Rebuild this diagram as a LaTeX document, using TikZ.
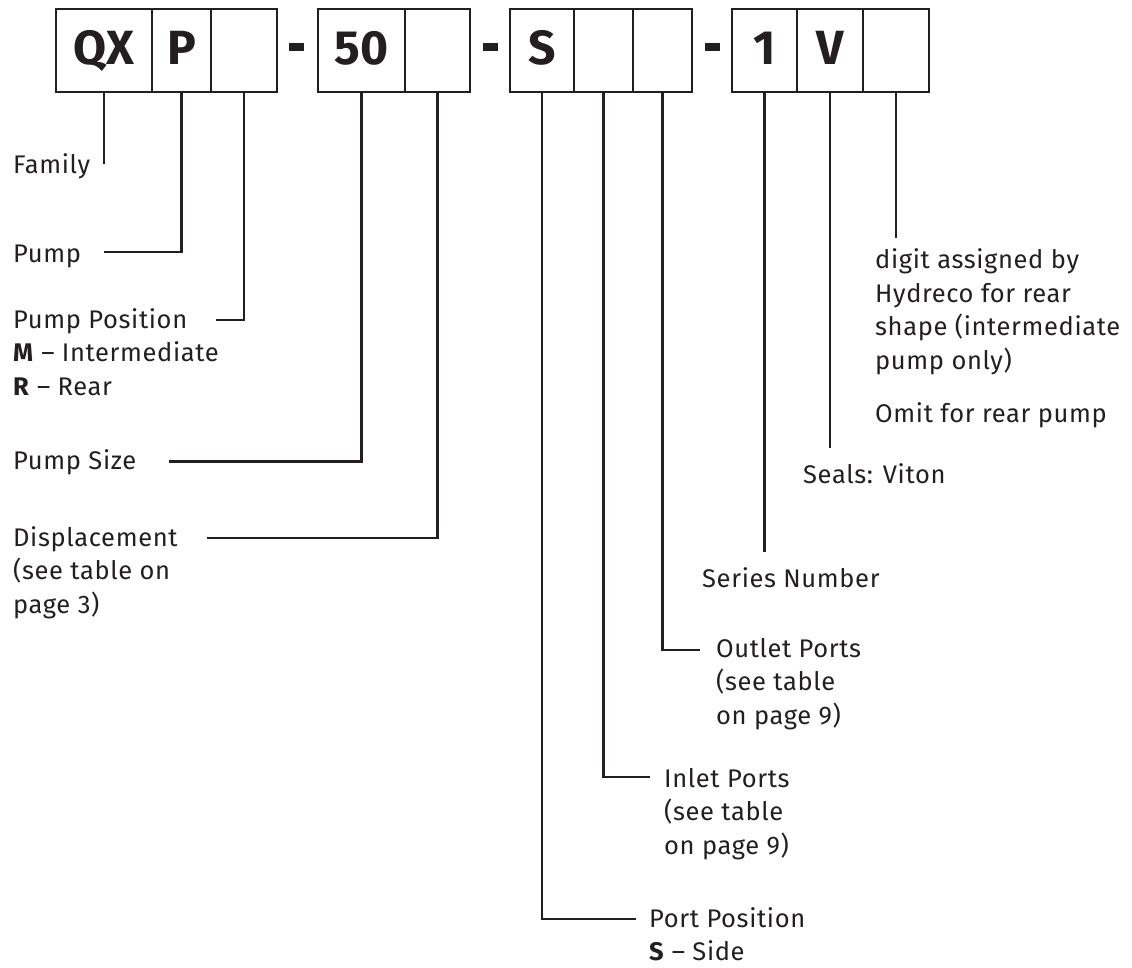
\documentclass[tikz,border=0pt]{standalone}
\usepackage{fontspec}
\setmainfont{Fira Sans}
\newfontfamily\lblfont[LetterSpace=2.5]{Fira Sans}
\definecolor{ink}{HTML}{231F20}
\newcommand{\lblstack}[1]{\vtop{\halign{##\hfil\cr#1\crcr}}}
\begin{document}
\begin{tikzpicture}[x=1pt,y=-1pt,
  cell/.style={draw=ink, line width=2.5pt, minimum height=83pt, inner sep=0pt,
    text height=33pt, text depth=4pt, text=ink,
    font=\fontsize{48}{50}\selectfont\bfseries},
  hy/.style={fill=ink, minimum width=15pt, minimum height=8pt, inner sep=0pt},
  lbl/.style={anchor=base west, inner sep=0pt, text=ink,
    font=\lblfont\fontsize{25.5}{33.5}\selectfont},
  wire/.style={draw=ink, line width=2.5pt}]
\useasboundingbox (0,0) rectangle (1132,968);

% code boxes
\node[cell, minimum width=96pt] (qx) at (104,50.5) {QX};
\node[cell, minimum width=59pt] (p) at (181.5,50.5) {P};
\node[cell, minimum width=66pt] (pp) at (244,50.5) {};
\node[hy] (d1) at (296,47) {};
\node[cell, minimum width=87pt] (fifty) at (361.5,50.5) {50};
\node[cell, minimum width=65pt] (disp) at (437.5,50.5) {};
\node[hy] (d2) at (490.5,47) {};
\node[cell, minimum width=64pt] (s) at (542,50.5) {S};
\node[cell, minimum width=59pt] (inl) at (603.5,50.5) {};
\node[cell, minimum width=59pt] (outl) at (662.5,50.5) {};
\node[hy] (d3) at (712.5,47) {};
\node[cell, minimum width=65pt] (one) at (764.5,50.5) {1};
\node[cell, minimum width=66pt] (v) at (830,50.5) {V};
\node[cell, minimum width=66pt] (dg) at (896,50.5) {};

% labels
\node[lbl] (family) at (13,174) {Family};
\node[lbl] (pump) at (13,262) {Pump};
\node[lbl] (ppos) at (13,328) {\lblstack{Pump Position\cr \textbf{M} – Intermediate\cr \textbf{R} – Rear}};
\node[lbl] (psize) at (13,469) {Pump Size};
\node[lbl] (displ) at (13,546) {\lblstack{Displacement\cr (see table on\cr page 3)}};
\node[lbl] (series) at (702,587) {Series Number};
\node[lbl] (outletl) at (716,657) {\lblstack{Outlet Ports\cr (see table\cr on page 9)}};
\node[lbl] (inletl) at (664,787) {\lblstack{Inlet Ports\cr (see table\cr on page 9)}};
\node[lbl] (portl) at (649,927) {\lblstack{Port Position\cr \textbf{S} – Side}};
\node[lbl] (seals) at (803,483) {Seals: Viton};
\node[lbl] (digitl) at (875,269) {\lblstack{digit assigned by\cr Hydreco for rear\cr shape (intermediate\cr pump only)}};
\node[lbl] (omit) at (875,422) {Omit for rear pump};

% connector ends
\coordinate (famend) at (qx.south |- 0,164);
\coordinate (pumpend) at (104,252);
\coordinate (pposend) at (216,320);
\coordinate (psizeend) at (169,461.5);
\coordinate (displend) at (207,538);
\coordinate (seriesend) at (one.south |- 0,552);
\coordinate (outletend) at (700,650);
\coordinate (inletend) at (650,777);
\coordinate (portend) at (636,919);
\coordinate (sealsend) at (v.south |- 0,448);
\coordinate (digitend) at (dg.south |- 0,238);

% connectors
\draw[wire] (qx.south) -- (famend);
\draw[wire] (p.south) |- (pumpend);
\draw[wire] (pp.south) |- (pposend);
\draw[wire] (fifty.south) |- (psizeend);
\draw[wire] (disp.south) |- (displend);
\draw[wire] (one.south) -- (seriesend);
\draw[wire] (outl.south) |- (outletend);
\draw[wire] (inl.south) |- (inletend);
\draw[wire] (s.south) |- (portend);
\draw[wire] (v.south) -- (sealsend);
\draw[wire] (dg.south) -- (digitend);
\end{tikzpicture}
\end{document}
